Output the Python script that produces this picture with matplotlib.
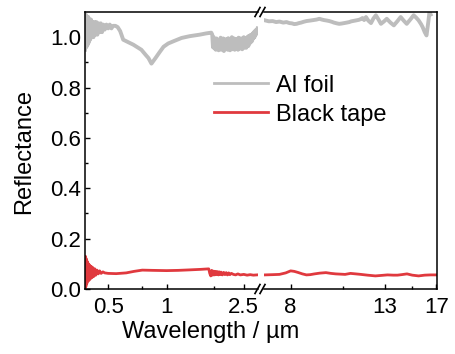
import numpy as np
import matplotlib
matplotlib.use("Agg")
import matplotlib.pyplot as plt
from matplotlib.ticker import FixedLocator, FixedFormatter, NullFormatter
from matplotlib.lines import Line2D

plt.rcParams['font.family'] = ['Liberation Sans', 'DejaVu Sans']

# UV-Vis-NIR part (um)
al_vis_wl = [0.380, 0.383, 0.386, 0.389, 0.392, 0.395, 0.398, 0.401, 0.404, 0.408,
             0.412, 0.416, 0.420, 0.425, 0.430, 0.435, 0.440, 0.446, 0.452, 0.458,
             0.465, 0.472, 0.480, 0.490, 0.500, 0.510, 0.520, 0.530, 0.545,
             0.560, 0.577, 0.598, 0.635, 0.675, 0.742, 0.780, 0.807, 0.836, 0.877,
             0.920, 0.965, 1.020, 1.087, 1.196, 1.316, 1.483, 1.600, 1.700,
             1.720, 1.735, 1.750, 1.765, 1.780, 1.795, 1.810, 1.825, 1.840, 1.855,
             1.870, 1.885, 1.900, 1.915, 1.930, 1.945, 1.960, 1.975, 1.990, 2.005,
             2.020, 2.035, 2.050, 2.065, 2.080, 2.095, 2.110, 2.125, 2.140, 2.155,
             2.170, 2.185, 2.200, 2.215, 2.230, 2.245, 2.260, 2.275, 2.290, 2.305,
             2.320, 2.335, 2.350, 2.365, 2.380, 2.395, 2.410, 2.425, 2.440, 2.455,
             2.470, 2.485, 2.500, 2.515, 2.530, 2.545, 2.560, 2.575, 2.590, 2.605,
             2.620, 2.640, 2.660, 2.680, 2.700, 2.720, 2.740, 2.760, 2.780, 2.800,
             2.820, 2.840, 2.860, 2.880, 2.900, 2.920, 2.950]
al_vis_r = [0.95, 1.09, 0.96, 1.08, 0.97, 1.08, 0.98, 1.07, 0.99, 1.07,
            1.00, 1.06, 1.00, 1.06, 1.01, 1.06, 1.01, 1.055, 1.02, 1.055,
            1.02, 1.05, 1.03, 1.05, 1.035, 1.05, 1.035, 1.045, 1.045,
            1.04, 1.024, 0.99, 0.98, 0.97, 0.95, 0.93, 0.917, 0.895, 0.917,
            0.94, 0.962, 0.975, 0.984, 0.997, 1.004, 1.01, 1.015, 1.018,
            1.010, 0.960, 1.000, 0.955, 0.990, 0.950, 0.995, 0.960, 0.985, 0.948,
            0.990, 0.955, 0.998, 0.950, 0.985, 0.958, 0.995, 0.945, 0.988, 0.952,
            0.992, 0.960, 0.985, 0.950, 0.996, 0.955, 0.990, 0.948, 0.985, 0.960,
            1.000, 0.952, 0.990, 0.958, 0.995, 0.950, 0.988, 0.955, 0.993, 0.962,
            0.985, 0.950, 0.998, 0.958, 0.990, 0.955, 0.995, 0.960, 0.988, 0.952,
            0.996, 0.962, 1.000, 0.958, 0.990, 0.965, 0.995, 0.958, 0.992, 0.968,
            1.002, 0.965, 1.005, 0.975, 1.008, 0.980, 1.010, 0.985, 1.015, 0.995,
            1.020, 1.000, 1.025, 1.010, 1.030, 1.015, 1.035]

tape_vis_wl = [0.380, 0.382, 0.384, 0.386, 0.388, 0.390, 0.393, 0.396, 0.399, 0.402,
               0.405, 0.409, 0.413, 0.417, 0.422, 0.427, 0.432, 0.438, 0.445, 0.452,
               0.460, 0.470, 0.480, 0.50, 0.55, 0.62, 0.68, 0.75, 0.85, 1.0,
               1.15, 1.32, 1.50, 1.65, 1.67, 1.69, 1.71, 1.73, 1.75, 1.77,
               1.79, 1.81, 1.83, 1.85, 1.87, 1.89, 1.91, 1.94, 1.97, 2.00,
               2.03, 2.06, 2.09, 2.12, 2.16, 2.21, 2.27, 2.33, 2.40, 2.50,
               2.60, 2.70, 2.80, 2.92]
tape_vis_r = [0.0, 0.13, 0.01, 0.12, 0.02, 0.11, 0.03, 0.10, 0.035, 0.095,
              0.04, 0.09, 0.045, 0.085, 0.05, 0.08, 0.055, 0.075, 0.06, 0.072,
              0.062, 0.068, 0.064, 0.062, 0.061, 0.064, 0.070, 0.075, 0.074, 0.073,
              0.074, 0.076, 0.078, 0.080, 0.062, 0.052, 0.074, 0.055, 0.071, 0.056,
              0.070, 0.057, 0.069, 0.056, 0.068, 0.057, 0.067, 0.056, 0.066, 0.057,
              0.065, 0.056, 0.064, 0.057, 0.062, 0.058, 0.056, 0.060, 0.056, 0.058,
              0.055, 0.057, 0.055, 0.056]

# FTIR part (um)
al_ir_wl = [7.0, 7.15, 7.29, 7.42, 7.55, 7.7, 7.83, 7.95, 8.05, 8.15,
            8.25, 8.35, 8.45, 8.55, 8.68, 8.85, 9.0, 9.15, 9.28, 9.4,
            9.5, 9.65, 9.77, 9.9, 10.0, 10.15, 10.28, 10.4, 10.55, 10.7,
            10.83, 10.95, 11.1, 11.25, 11.39, 11.5, 11.6, 11.7, 11.81, 11.95,
            12.12, 12.27, 12.43, 12.6, 12.76, 12.95, 13.15, 13.4, 13.64, 13.9,
            14.13, 14.35, 14.58, 14.85, 15.11, 15.3, 15.5, 15.7, 15.83, 16.0,
            16.15, 16.3, 16.4, 16.5]
al_ir_r = [1.067, 1.063, 1.064, 1.06, 1.062, 1.058, 1.06, 1.056, 1.055, 1.052,
           1.053, 1.056, 1.058, 1.061, 1.064, 1.066, 1.068, 1.07, 1.073, 1.07,
           1.068, 1.066, 1.064, 1.061, 1.058, 1.055, 1.053, 1.054, 1.056, 1.058,
           1.06, 1.063, 1.065, 1.067, 1.069, 1.072, 1.076, 1.068, 1.08, 1.066,
           1.056, 1.074, 1.087, 1.07, 1.053, 1.062, 1.073, 1.058, 1.047, 1.064,
           1.08, 1.066, 1.053, 1.07, 1.087, 1.078, 1.067, 1.052, 1.04, 1.02,
           1.007, 1.06, 1.10, 1.09]

tape_ir_wl = [7.0, 7.3, 7.55, 7.8, 8.0, 8.15, 8.3, 8.5, 8.68, 8.85,
              9.05, 9.3, 9.6, 9.85, 10.1, 10.35, 10.6, 10.9, 11.2, 11.5,
              11.9, 12.4, 12.8, 13.2, 13.6, 13.9, 14.2, 14.6, 15.0, 15.5,
              16.0, 16.5, 17.0]
tape_ir_r = [0.056, 0.057, 0.058, 0.064, 0.072, 0.070, 0.066, 0.060, 0.056, 0.057,
             0.060, 0.063, 0.065, 0.062, 0.060, 0.059, 0.058, 0.062, 0.060, 0.058,
             0.055, 0.052, 0.054, 0.056, 0.055, 0.055, 0.057, 0.060, 0.055, 0.052,
             0.055, 0.056, 0.056]

gray = '#bdbdbd'
red = '#e0393e'

W, H = 455, 354
fig = plt.figure(figsize=(W / 100, H / 100), dpi=100)

def box(x0, x1, y0, y1):
    return [x0 / W, 1 - y1 / H, (x1 - x0) / W, (y1 - y0) / H]

ax1 = fig.add_axes(box(85, 258, 12, 289))
ax2 = fig.add_axes(box(264, 437, 12, 289), sharey=ax1)

ax1.plot(al_vis_wl, al_vis_r, color=gray, lw=2.8)
ax1.plot(tape_vis_wl, tape_vis_r, color=red, lw=2.0)
ax2.plot(al_ir_wl, al_ir_r, color=gray, lw=2.8)
ax2.plot(tape_ir_wl, tape_ir_r, color=red, lw=2.0)

for ax in (ax1, ax2):
    ax.set_xscale('log')
    for s in ax.spines.values():
        s.set_linewidth(1.1)
    ax.tick_params(which='both', direction='in', labelsize=16, width=1.0)
    ax.tick_params(which='major', length=3.5, pad=6)
    ax.tick_params(which='minor', length=2)

ax1.set_xlim(0.38, 2.96)
ax2.set_xlim(6.97, 17.05)
ax1.set_ylim(0, 1.1)

ax1.xaxis.set_major_locator(FixedLocator([0.5, 1, 2.5]))
ax1.xaxis.set_major_formatter(FixedFormatter(['0.5', '1', '2.5']))
ax1.xaxis.set_minor_locator(FixedLocator([0.75, 1.75]))
ax1.xaxis.set_minor_formatter(NullFormatter())
ax2.xaxis.set_major_locator(FixedLocator([8, 13, 17]))
ax2.xaxis.set_major_formatter(FixedFormatter(['8', '13', '17']))
ax2.xaxis.set_minor_locator(FixedLocator([10.5, 15]))
ax2.xaxis.set_minor_formatter(NullFormatter())

ax1.set_yticks(np.arange(0, 1.01, 0.2))
ax1.set_yticks(np.arange(0.1, 1.1, 0.2), minor=True)
ax1.yaxis.set_major_formatter(matplotlib.ticker.FormatStrFormatter('%.1f'))
ax1.tick_params(axis='y', pad=3)
ax1.spines['right'].set_visible(False)
ax2.spines['left'].set_visible(False)
ax2.tick_params(axis='y', which='both', left=False, labelleft=False)

# break marks
for xb in (257.5, 262.5):
    for yb in (12, 289):
        fig.add_artist(Line2D([(xb - 2.5) / W, (xb + 2.5) / W],
                              [1 - (yb + 4.5) / H, 1 - (yb - 4.5) / H],
                              color='black', lw=1.2))

fig.text(24 / W, 1 - 151 / H, 'Reflectance', rotation=90, fontsize=17,
         ha='center', va='center')
fig.text(211 / W, 1 - 321 / H, 'Wavelength / \u00b5m', fontsize=17,
         ha='center', va='top')

handles = [Line2D([], [], color=gray, lw=2.0), Line2D([], [], color=red, lw=2.0)]
fig.legend(handles, ['Al foil', 'Black tape'], loc='upper left',
           bbox_to_anchor=(197 / W, 1 - 58 / H), frameon=False, fontsize=17,
           handlelength=2.3, handletextpad=0.35, labelspacing=0.3, borderpad=0.2)

fig.savefig('out.png', dpi=100)
